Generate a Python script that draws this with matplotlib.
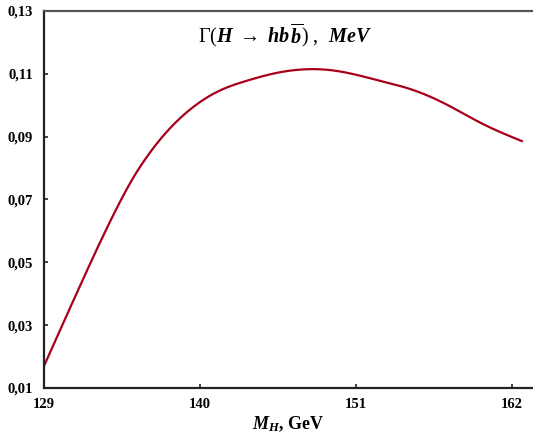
import matplotlib
matplotlib.use("Agg")
import matplotlib.pyplot as plt
import numpy as np

mass = [129.0, 130.13, 131.54, 132.95, 134.15, 135.28, 136.47, 137.67, 138.80,
        140.0, 141.27, 143.31, 145.64, 147.26, 148.96, 150.93, 152.69, 154.81,
        157.42, 159.89, 162.71]
width = [0.0170, 0.0284, 0.0425, 0.0563, 0.0674, 0.0768, 0.0849, 0.0916, 0.0967,
         0.1010, 0.1044, 0.1078, 0.1105, 0.1114, 0.1113, 0.1098, 0.1078, 0.1052,
         0.1002, 0.0942, 0.0886]
xticks = [129, 140, 151, 162]
yticks = [0.01, 0.03, 0.05, 0.07, 0.09, 0.11, 0.13]
ytick_labels = ["0,01", "0,03", "0,05", "0,07", "0,09", "0,11", "0,13"]

plt.rcParams['mathtext.fontset'] = 'custom'
plt.rcParams['mathtext.rm'] = 'Liberation Serif'
plt.rcParams['mathtext.it'] = 'Liberation Serif:italic:bold'
plt.rcParams['mathtext.bf'] = 'Liberation Serif:bold'

fig = plt.figure(figsize=(5.33, 4.43), dpi=100)
ax = fig.add_axes([44/533, 1-388/443, 1-44/533, (388-11)/443])

xs = np.array(mass); ys = np.array(width)

def natural_spline(x, y, xn):
    n = len(x)
    h = np.diff(x)
    A = np.zeros((n, n)); r = np.zeros(n)
    A[0, 0] = 1; A[-1, -1] = 1
    for i in range(1, n-1):
        A[i, i-1] = h[i-1]; A[i, i] = 2*(h[i-1]+h[i]); A[i, i+1] = h[i]
        r[i] = 6*((y[i+1]-y[i])/h[i] - (y[i]-y[i-1])/h[i-1])
    M = np.linalg.solve(A, r)
    idx = np.clip(np.searchsorted(x, xn) - 1, 0, n-2)
    x0 = x[idx]; x1 = x[idx+1]; hh = h[idx]
    return (M[idx]*(x1-xn)**3/(6*hh) + M[idx+1]*(xn-x0)**3/(6*hh)
            + (y[idx]/hh - M[idx]*hh/6)*(x1-xn)
            + (y[idx+1]/hh - M[idx+1]*hh/6)*(xn-x0))

xf = np.linspace(xs[0], xs[-1], 500)
yf = natural_spline(xs, ys, xf)
ax.plot(xf, yf, color='#a8001c', lw=1.6)

ax.set_xlim(129, 163.5)
ax.set_ylim(0.01, 0.13)
ax.set_xticks(xticks)
ax.set_xticklabels([str(t) for t in xticks])
ax.set_yticks(yticks)
ax.set_yticklabels(ytick_labels)
for lab in ax.get_xticklabels() + ax.get_yticklabels():
    lab.set_fontfamily('Liberation Serif')
    lab.set_fontweight('bold')
    lab.set_fontsize(10.5)
ax.tick_params(direction='in', length=3, width=1.2, color='#222222')
ax.tick_params(axis='y', pad=8)
ax.tick_params(axis='x', pad=7.5)
ax.spines['right'].set_visible(False)
for s in ['left', 'bottom']:
    ax.spines[s].set_linewidth(1.6)
    ax.spines[s].set_color('#222222')
ax.spines['top'].set_linewidth(1.6)
ax.spines['top'].set_color('#555555')

ax.text(0.493, 0.934,
        r'$\Gamma(H\;\rightarrow\;hb\,\overline{b})\;,\;\;MeV$',
        transform=ax.transAxes, ha='center', va='center', fontsize=14.5)
ax.set_xlabel(r'$M_H$, GeV', fontfamily='Liberation Serif', fontweight='bold',
              fontsize=13, labelpad=2.5)

fig.savefig('out.png', dpi=100)
